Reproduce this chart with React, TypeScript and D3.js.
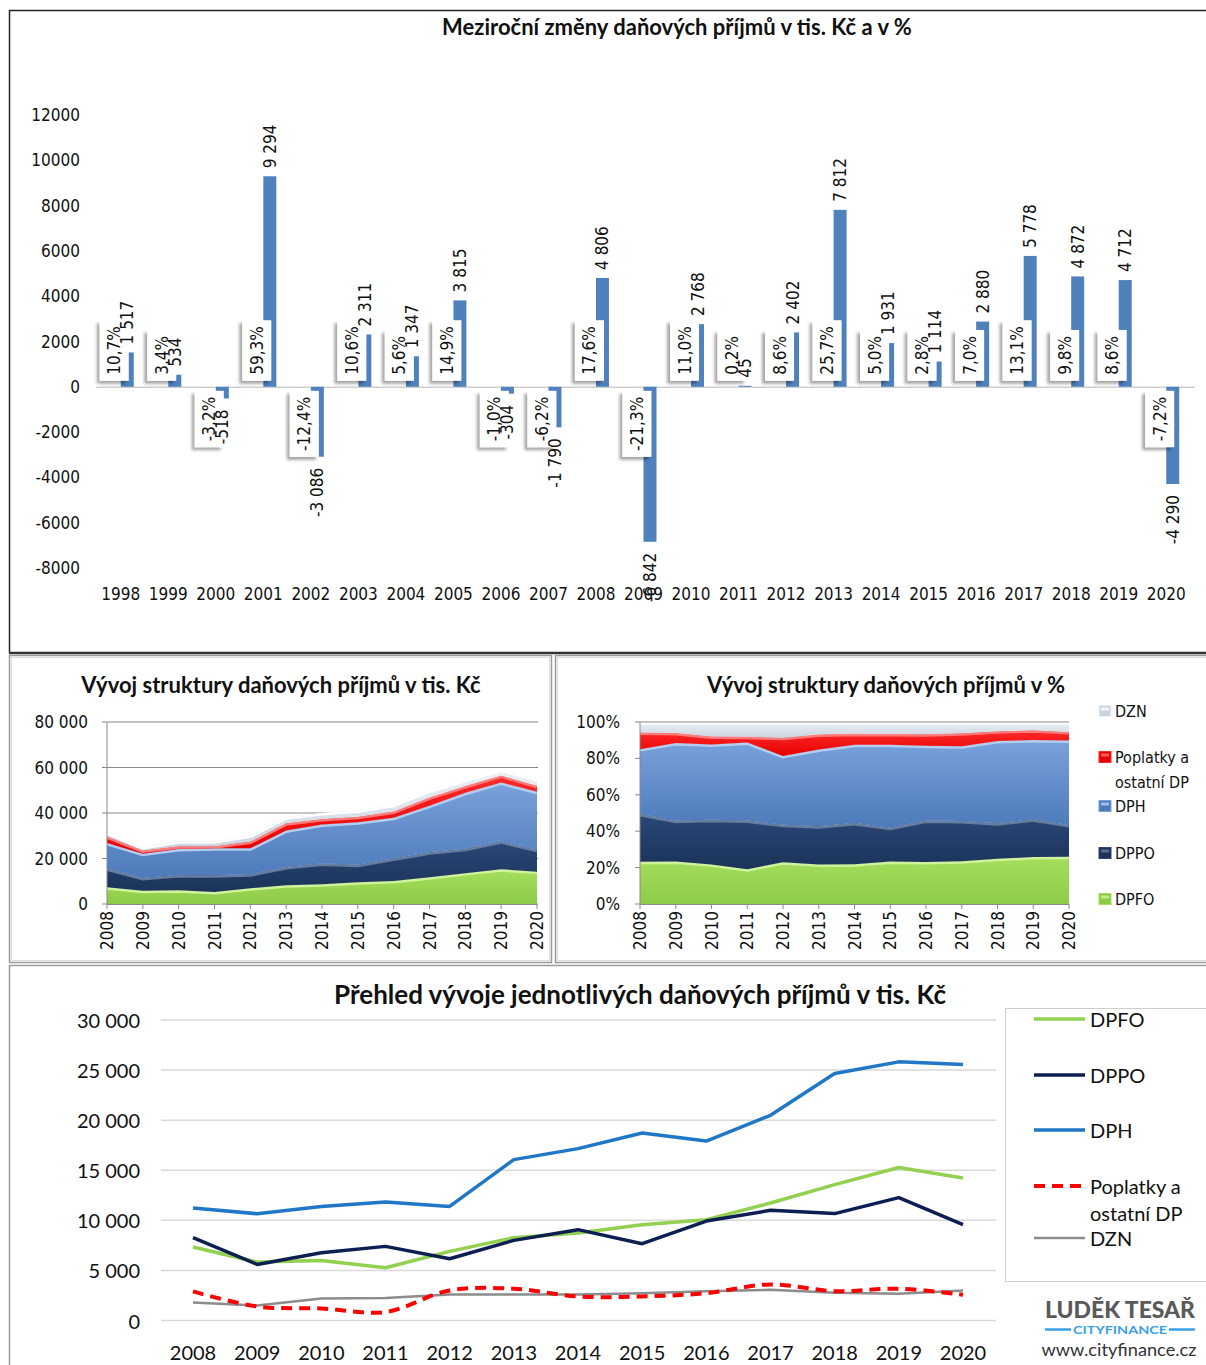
import React from 'react';
import * as d3 from 'd3';

// ---------- DATA ----------
const changeYears = ['1998','1999','2000','2001','2002','2003','2004','2005','2006','2007','2008','2009','2010','2011','2012','2013','2014','2015','2016','2017','2018','2019','2020'];
const changeValues = [1517, 534, -518, 9294, -3086, 2311, 1347, 3815, -304, -1790, 4806, -6842, 2768, 45, 2402, 7812, 1931, 1114, 2880, 5778, 4872, 4712, -4290];
const changePct = ['10,7%','3,4%','-3,2%','59,3%','-12,4%','10,6%','5,6%','14,9%','-1,0%','-6,2%','17,6%','-21,3%','11,0%','0,2%','8,6%','25,7%','5,0%','2,8%','7,0%','13,1%','9,8%','8,6%','-7,2%'];
const changeTicks = [12000, 10000, 8000, 6000, 4000, 2000, 0, -2000, -4000, -6000, -8000];

const structYears = [2008, 2009, 2010, 2011, 2012, 2013, 2014, 2015, 2016, 2017, 2018, 2019, 2020];
const dpfo = [7330, 5830, 6000, 5270, 6900, 8270, 8730, 9570, 10070, 11730, 13570, 15270, 14230];
const dppo = [8270, 5600, 6770, 7400, 6170, 8000, 9070, 7670, 9930, 11000, 10670, 12270, 9570];
const dph = [11220, 10660, 11390, 11820, 11390, 16060, 17160, 18720, 17920, 20490, 24650, 25820, 25560];
const poplatky = [2900, 1400, 1200, 850, 3000, 3170, 2400, 2400, 2730, 3600, 2930, 3170, 2570];
const dzn = [1800, 1500, 2200, 2250, 2600, 2600, 2600, 2730, 2930, 3070, 2770, 2670, 3000];

const absTicks = [0, 20000, 40000, 60000, 80000];
const pctTicks = [0, 0.2, 0.4, 0.6, 0.8, 1];
const lineTicks = [0, 5000, 10000, 15000, 20000, 25000, 30000];

const seriesKeys = ['DPFO', 'DPPO', 'DPH', 'POP', 'DZN'];
const seriesNames = ['DPFO', 'DPPO', 'DPH', 'Poplatky a ostatní DP', 'DZN'];

// ---------- STYLE ----------
const FC = '"DejaVu Sans Condensed", "DejaVu Sans", sans-serif';
const FL = 'Lato, "Open Sans", sans-serif';
const layerStyle: Record<string, { top: string; base: string; hi: string }> = {
  DPFO: { top: '#a6de5e', base: '#8ccb48', hi: '#cff39a' },
  DPPO: { top: '#2a4777', base: '#1b3359', hi: '#667d9f' },
  DPH: { top: '#7aa2dc', base: '#4d7aba', hi: '#b3cdf0' },
  POP: { top: '#ff2a2a', base: '#e60000', hi: '#ff7a7a' },
  DZN: { top: '#eef2f7', base: '#c9d3df', hi: '#ffffff' },
};
const lineStyle: Record<string, { color: string; width: number; dash?: string }> = {
  DPFO: { color: '#92d050', width: 3.5 },
  DPPO: { color: '#0d1f52', width: 3.5 },
  DPH: { color: '#1f77c6', width: 3.5 },
  POP: { color: '#ff0000', width: 4, dash: '11,7' },
  DZN: { color: '#8c8c8c', width: 2.5 },
};

const loc = d3.formatLocale({ decimal: ',', thousands: ' ', grouping: [3], currency: ['', ''], minus: '-' });
const fmtSp = loc.format(',d');
const fmtPlain = loc.format('d');

let ctx: CanvasRenderingContext2D | null = null;
function measure(text: string, font: string) {
  if (!ctx) ctx = document.createElement('canvas').getContext('2d');
  if (!ctx) return text.length * 9;
  ctx.font = font;
  return ctx.measureText(text).width;
}

function TopChart() {
  const xC = d3.scaleBand<string>().domain(changeYears).range([97, 1190]);
  const yC = d3.scaleLinear().domain([-8000, 12000]).range([568, 115]);
  const z = yC(0);
  const bw = xC.bandwidth();
  const fs = 17;
  return (
    <g>
      <text x={677} y={35} textAnchor="middle" fontFamily={FL} fontWeight={700} fontSize={22} fill="#111">Meziroční změny daňových příjmů v tis. Kč a v %</text>
      {changeTicks.map(t => (
        <text key={t} x={80} y={yC(t)} textAnchor="end" dominantBaseline="central" fontFamily={FC} fontSize={fs} fill="#111">{fmtPlain(t)}</text>
      ))}
      <line x1={96} x2={1195} y1={z + 0.5} y2={z + 0.5} stroke="#d0d0d0" strokeWidth={1.5} />
      {changeYears.map((yr, i) => {
        const c = xC(yr)! + bw / 2;
        const v = changeValues[i];
        return <rect key={'b' + yr} x={c} width={13} y={Math.min(yC(v), z)} height={Math.abs(yC(v) - z)} fill="#4f81bd" />;
      })}
      {changeYears.map((yr, i) => {
        const c = xC(yr)! + bw / 2;
        const v = changeValues[i];
        const t = changePct[i];
        const len = measure(t, `${fs}px "DejaVu Sans Condensed"`);
        const h = len + 12;
        const y0 = v >= 0 ? z - 6 - h : z + 4;
        const cy = y0 + h / 2;
        const tx = c - 6.5;
        return (
          <g key={'p' + yr}>
            <rect x={c - 21} y={y0} width={29} height={h} fill="#fff" filter="url(#shadow)" />
            <text x={tx} y={cy} transform={`rotate(-90 ${tx} ${cy})`} textAnchor="middle" dominantBaseline="central" fontFamily={FC} fontSize={fs} fill="#111">{t}</text>
          </g>
        );
      })}
      {changeYears.map((yr, i) => {
        const c = xC(yr)! + bw / 2;
        const v = changeValues[i];
        const tx = c + 6.5;
        const ty = v >= 0 ? yC(v) - 8 : yC(v) + 11;
        return (
          <text key={'v' + yr} x={tx} y={ty} transform={`rotate(-90 ${tx} ${ty})`} textAnchor={v >= 0 ? 'start' : 'end'} dominantBaseline="central" fontFamily={FC} fontSize={fs} fill="#111">{fmtSp(v)}</text>
        );
      })}
      {changeYears.map(yr => (
        <text key={'x' + yr} x={xC(yr)! + bw / 2} y={594} textAnchor="middle" dominantBaseline="central" fontFamily={FC} fontSize={fs} fill="#111">{yr}</text>
      ))}
    </g>
  );
}

const stackRows = structYears.map((y, i) => ({ year: y, DPFO: dpfo[i], DPPO: dppo[i], DPH: dph[i], POP: poplatky[i], DZN: dzn[i] }));

function StackChart({ pct }: { pct: boolean }) {
  const x0 = pct ? 640 : 107;
  const x1 = pct ? 1069 : 537;
  const x = d3.scaleLinear().domain([2008, 2020]).range([x0, x1]);
  const y = d3.scaleLinear().domain([0, pct ? 1 : 80000]).range([904, 722]);
  const st = d3.stack<any>().keys(seriesKeys);
  if (pct) st.offset(d3.stackOffsetExpand);
  const series = st(stackRows);
  const area = d3.area<any>().x(d => x(d.data.year)).y0(d => y(d[0])).y1(d => y(d[1]));
  const topLine = d3.line<any>().x(d => x(d.data.year)).y(d => y(d[1]));
  const pre = pct ? 'p' : 'a';
  const ticks = pct ? pctTicks : absTicks;
  const fmt = pct ? (v: number) => Math.round(v * 100) + '%' : (v: number) => fmtSp(v);
  const labelX = pct ? 620 : 88;
  return (
    <g>
      <defs>
        {series.map(s => (
          <React.Fragment key={s.key}>
            <linearGradient id={`${pre}g${s.key}`} x1="0" y1="0" x2="0" y2="1">
              <stop offset="0" stopColor={layerStyle[s.key].top} />
              <stop offset="1" stopColor={layerStyle[s.key].base} />
            </linearGradient>
            <clipPath id={`${pre}c${s.key}`}><path d={area(s as any)!} /></clipPath>
          </React.Fragment>
        ))}
      </defs>
      <text x={pct ? 886 : 281} y={693} textAnchor="middle" fontFamily={FL} fontWeight={700} fontSize={22} fill="#111">{pct ? 'Vývoj struktury daňových příjmů v %' : 'Vývoj struktury daňových příjmů v tis. Kč'}</text>
      {ticks.map(t => (
        <g key={t}>
          {!pct && <line x1={x0 - 5} x2={x1 + 1} y1={y(t)} y2={y(t)} stroke="#8a8a8a" strokeWidth={1} />}
          {pct && <line x1={x0 - 5} x2={x0} y1={y(t)} y2={y(t)} stroke="#8a8a8a" strokeWidth={1} />}
          <text x={labelX} y={y(t)} textAnchor="end" dominantBaseline="central" fontFamily={FC} fontSize={17} fill="#111">{fmt(t)}</text>
        </g>
      ))}
      {series.map(s => (
        <g key={s.key}>
          <path d={area(s as any)!} fill={`url(#${pre}g${s.key})`} />
          <path d={topLine(s as any)!} fill="none" stroke={layerStyle[s.key].hi} strokeWidth={5} clipPath={`url(#${pre}c${s.key})`} />
        </g>
      ))}
      {pct && <line x1={x0} x2={x1} y1={y(1)} y2={y(1)} stroke="#8a8a8a" strokeWidth={1} />}
      <line x1={x0} x2={x0} y1={722} y2={904} stroke="#8a8a8a" strokeWidth={1} />
      <line x1={x0} x2={x1} y1={904.5} y2={904.5} stroke="#8a8a8a" strokeWidth={1} />
      {structYears.map(yr => {
        const tx = x(yr);
        const ty = 911;
        return (
          <g key={yr}>
            <line x1={tx} x2={tx} y1={904} y2={909} stroke="#8a8a8a" strokeWidth={1} />
            <text x={tx} y={ty} transform={`rotate(-90 ${tx} ${ty})`} textAnchor="end" dominantBaseline="central" fontFamily={FC} fontSize={17} fill="#111">{yr}</text>
          </g>
        );
      })}
      {pct && (
        <g>
          {[
            { k: 'DZN', y: 711, t: ['DZN'] },
            { k: 'POP', y: 757, t: ['Poplatky a', 'ostatní DP'] },
            { k: 'DPH', y: 806, t: ['DPH'] },
            { k: 'DPPO', y: 853, t: ['DPPO'] },
            { k: 'DPFO', y: 899, t: ['DPFO'] },
          ].map(l => (
            <g key={l.k}>
              <rect x={1099} y={l.y - 5.5} width={12} height={11} fill={layerStyle[l.k].base} stroke={layerStyle[l.k].top} strokeWidth={1} />
              <rect x={1101} y={l.y - 3.5} width={8} height={3} fill={layerStyle[l.k].hi} opacity={0.8} />
              {l.t.map((tt, j) => (
                <text key={j} x={1115} y={l.y + j * 25} dominantBaseline="central" fontFamily={FC} fontSize={16} fill="#111">{tt}</text>
              ))}
            </g>
          ))}
        </g>
      )}
    </g>
  );
}

function LineChart() {
  const x = d3.scaleLinear().domain([2008, 2020]).range([193, 963]);
  const y = d3.scaleLinear().domain([0, 30000]).range([1320.5, 1020]);
  const values: Record<string, number[]> = { DPFO: dpfo, DPPO: dppo, DPH: dph, POP: poplatky, DZN: dzn };
  const drawOrder = ['DZN', 'POP', 'DPFO', 'DPPO', 'DPH'];
  const legendY = [1019, 1075, 1130, 1186, 1238];
  return (
    <g>
      <text x={640} y={1004} textAnchor="middle" fontFamily={FL} fontWeight={700} fontSize={26} fill="#111">Přehled vývoje jednotlivých daňových příjmů v tis. Kč</text>
      {lineTicks.map(t => (
        <g key={t}>
          <line x1={161} x2={996} y1={y(t)} y2={y(t)} stroke="#d9d9d9" strokeWidth={1.5} />
          <text x={140} y={y(t)} textAnchor="end" dominantBaseline="central" fontFamily={FL} fontSize={20} fill="#111">{fmtSp(t)}</text>
        </g>
      ))}
      {structYears.map(yr => (
        <text key={yr} x={x(yr)} y={1352} textAnchor="middle" dominantBaseline="central" fontFamily={FL} fontSize={20} fill="#111">{yr}</text>
      ))}
      {drawOrder.map(k => {
        const gen = d3.line<number>().x((_, i) => x(structYears[i])).y(v => y(v));
        if (k === 'POP') gen.curve(d3.curveCatmullRom.alpha(0.5));
        const s = lineStyle[k];
        return <path key={k} d={gen(values[k])!} fill="none" stroke={s.color} strokeWidth={s.width} strokeDasharray={s.dash} strokeLinejoin="round" />;
      })}
      <rect x={1005.5} y={1008.5} width={215} height={273} fill="none" stroke="#d0d0d0" strokeWidth={1} />
      {seriesKeys.map((k, i) => {
        const s = lineStyle[k];
        const ly = legendY[i];
        return (
          <g key={k}>
            <line x1={1034} x2={1085} y1={ly} y2={ly} stroke={s.color} strokeWidth={s.width} strokeDasharray={s.dash} />
            {k === 'POP' ? (
              <>
                <text x={1090} y={ly} dominantBaseline="central" fontFamily={FL} fontSize={20} fill="#111">Poplatky a</text>
                <text x={1090} y={ly + 27} dominantBaseline="central" fontFamily={FL} fontSize={20} fill="#111">ostatní DP</text>
              </>
            ) : (
              <text x={1090} y={ly} dominantBaseline="central" fontFamily={FL} fontSize={20} fill="#111">{seriesNames[i]}</text>
            )}
          </g>
        );
      })}
      <text x={1120} y={1318} textAnchor="middle" fontFamily={FL} fontWeight={900} fontSize={22} fill="#5a5a5a" textLength={150} lengthAdjust="spacingAndGlyphs">LUDĚK TESAŘ</text>
      <line x1={1045} x2={1071} y1={1329.5} y2={1329.5} stroke="#3aa0ea" strokeWidth={2.5} />
      <line x1={1169} x2={1195} y1={1329.5} y2={1329.5} stroke="#3aa0ea" strokeWidth={2.5} />
      <text x={1120} y={1334} textAnchor="middle" fontFamily={FL} fontWeight={700} fontSize={11} fill="#3aa0ea" textLength={94} lengthAdjust="spacingAndGlyphs">CITYFINANCE</text>
      <text x={1119} y={1356} textAnchor="middle" fontFamily={FL} fontSize={17} fill="#333" textLength={155} lengthAdjust="spacingAndGlyphs">www.cityfinance.cz</text>
    </g>
  );
}

export default function App() {
  return (
    <div style={{ position: 'absolute', left: 0, top: 0, width: 1206, height: 1365, overflow: 'hidden', background: '#fff' }}>
      <svg width={1206} height={1365} viewBox="0 0 1206 1365" style={{ display: 'block' }}>
        <defs>
          <filter id="shadow" x="-50%" y="-30%" width="200%" height="160%">
            <feDropShadow dx={-3} dy={3} stdDeviation={1.6} floodColor="#000" floodOpacity={0.35} />
          </filter>
        </defs>
        <rect x={0} y={0} width={1206} height={1365} fill="#fff" />
        {/* frames */}
        <line x1={9} x2={1206} y1={10.5} y2={10.5} stroke="#222" strokeWidth={1.5} />
        <line x1={9.5} x2={9.5} y1={10} y2={653} stroke="#222" strokeWidth={1.5} />
        <line x1={9} x2={1206} y1={653} y2={653} stroke="#333" strokeWidth={2.5} />
        <rect x={9.5} y={655.5} width={542} height={307} fill="none" stroke="#9a9a9a" strokeWidth={1.5} />
        <rect x={11.5} y={657.5} width={538} height={303} fill="none" stroke="#dcdcdc" strokeWidth={1} />
        <rect x={555.5} y={655.5} width={660} height={307} fill="none" stroke="#9a9a9a" strokeWidth={1.5} />
        <rect x={557.5} y={657.5} width={660} height={303} fill="none" stroke="#dcdcdc" strokeWidth={1} />
        <rect x={9.5} y={965.5} width={1210} height={410} fill="none" stroke="#9a9a9a" strokeWidth={1.5} />
        <TopChart />
        <StackChart pct={false} />
        <StackChart pct={true} />
        <LineChart />
      </svg>
    </div>
  );
}
